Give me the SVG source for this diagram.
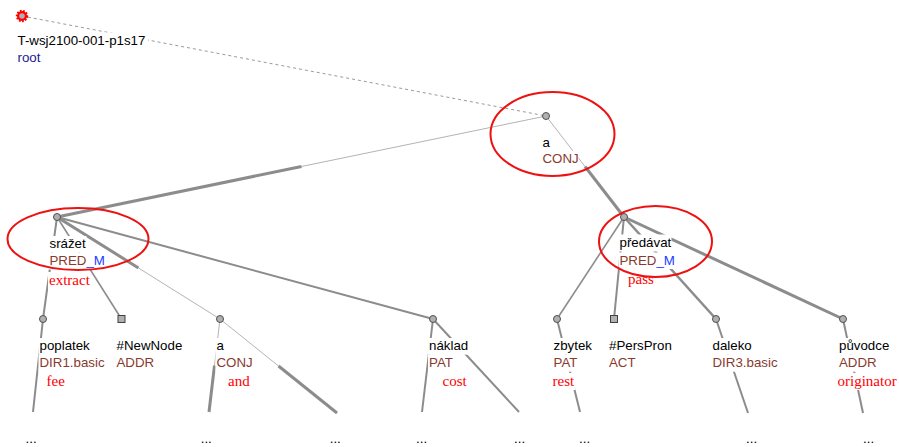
<svg xmlns="http://www.w3.org/2000/svg" width="899" height="447" viewBox="0 0 899 447">
<style>
.t{font-family:"Liberation Sans",Arial,sans-serif;font-size:13.3px;fill:#000}
.f{font-family:"Liberation Sans",Arial,sans-serif;font-size:13.3px;fill:#883a2e}
.b{fill:#1a3cff}
.r{font-family:"Liberation Serif","Times New Roman",serif;font-size:15px;fill:#ff0000}
.rt{font-family:"Liberation Sans",Arial,sans-serif;font-size:13.3px;fill:#1c1c90}
.bg{fill:#fff}
.nd{fill:#b0b0b0;stroke:#505050;stroke-width:1}
.sq{fill:#b0b0b0;stroke:#404040;stroke-width:1}
.thin{stroke:#b4b4b4;stroke-width:1;fill:none}
.thick{stroke:#8c8c8c;stroke-width:3;fill:none}
.med{stroke:#8c8c8c;stroke-width:2;fill:none}
.dash{stroke:#9a9a9a;stroke-width:1;stroke-dasharray:3 3;fill:none}
.hl{fill:none;stroke:#ee1111;stroke-width:2}
</style>
<g id="connectors">
<line class="dash" x1="22" y1="16" x2="546" y2="116"/>
<line class="thin" x1="546" y1="116" x2="301.5" y2="166.5"/>
<line class="thick" x1="301.5" y1="166.5" x2="57" y2="217"/>
<line class="thin" x1="546" y1="116" x2="585" y2="166.5"/>
<line class="thick" x1="585" y1="166.5" x2="624" y2="217"/>
<line class="med" x1="57" y1="217" x2="43" y2="319"/>
<line class="med" style="stroke-width:1.6" x1="57" y1="217" x2="121.5" y2="319"/>
<line class="thick" x1="57" y1="217" x2="138.5" y2="268"/>
<line class="thin" x1="138.5" y1="268" x2="220" y2="319"/>
<line class="med" x1="57" y1="217" x2="433" y2="319"/>
<line class="med" x1="43" y1="319" x2="33" y2="412"/>
<line class="thin" x1="220" y1="319" x2="214.5" y2="365.5"/>
<line class="thick" x1="214.5" y1="365.5" x2="209" y2="412"/>
<line class="thin" x1="220" y1="319" x2="278.5" y2="366"/>
<line class="thick" x1="278.5" y1="366" x2="337" y2="413"/>
<line class="med" x1="433" y1="319" x2="422" y2="412"/>
<line class="med" x1="433" y1="319" x2="519" y2="412"/>
<line class="med" style="stroke-width:1.6" x1="624" y1="217" x2="557" y2="319"/>
<line class="med" x1="624" y1="217" x2="614" y2="319"/>
<line class="med" style="stroke-width:2.5" x1="624" y1="217" x2="716" y2="319"/>
<line class="thick" x1="624" y1="217" x2="843" y2="319"/>
<line class="med" x1="557" y1="319" x2="580" y2="412"/>
<line class="med" x1="716" y1="319" x2="748" y2="413"/>
<line class="med" x1="843" y1="319" x2="863" y2="413"/>
</g>
<g id="n-root">
<circle cx="22" cy="16" r="5" fill="#ff0000" stroke="#ff0000" stroke-width="2.4" stroke-dasharray="1.6 1.4"/>
<circle cx="22" cy="16" r="2.8" fill="#b0b0b0"/>
<rect class="bg" x="17" y="32.5" width="131" height="17"/>
<rect class="bg" x="17" y="49.5" width="25" height="16"/>
<text class="t" x="17.5" y="45">T-wsj2100-001-p1s17</text>
<text class="rt" x="17.5" y="61.5">root</text>
</g>
<g id="n-a">
<circle class="nd" cx="546" cy="116" r="3.5"/>
<rect class="bg" x="541.5" y="134.5" width="9" height="16"/>
<rect class="bg" x="541.5" y="151" width="37" height="16"/>
<text class="t" x="542.5" y="147">a</text>
<text class="f" x="542.5" y="163">CONJ</text>
</g>
<g id="n-srazet">
<circle class="nd" cx="57" cy="217" r="3.5"/>
<rect class="bg" x="48.5" y="236" width="38" height="16.5"/>
<rect class="bg" x="48.5" y="252.5" width="57" height="17"/>
<rect class="bg" x="48" y="272" width="43" height="17"/>
<text class="t" x="49.5" y="248">srážet</text>
<text class="f" x="49.5" y="265">PRED<tspan class="b">_M</tspan></text>
<text class="r" x="49" y="285">extract</text>
</g>
<g id="n-predavat">
<circle class="nd" cx="624" cy="217" r="3.5"/>
<rect class="bg" x="618.5" y="234.5" width="53" height="17"/>
<rect class="bg" x="618.5" y="252.5" width="57" height="16.5"/>
<rect class="bg" x="627" y="270.5" width="27" height="17"/>
<text class="t" x="619.5" y="247">předávat</text>
<text class="f" x="619.5" y="265">PRED<tspan class="b">_M</tspan></text>
<text class="r" x="628" y="283.5">pass</text>
</g>
<g id="n-poplatek">
<circle class="nd" cx="43" cy="319" r="3.5"/>
<rect class="bg" x="38.5" y="338" width="52" height="16.7"/>
<rect class="bg" x="38.5" y="354.7" width="67" height="17"/>
<rect class="bg" x="45.5" y="373" width="20" height="17"/>
<text class="t" x="39.5" y="350">poplatek</text>
<text class="f" x="39.5" y="366.7">DIR1.basic</text>
<text class="r" x="46.5" y="386">fee</text>
</g>
<g id="n-newnode">
<rect class="sq" x="118" y="315.5" width="7" height="7"/>
<rect class="bg" x="115.5" y="338" width="68" height="16.7"/>
<rect class="bg" x="115.5" y="354.7" width="39" height="17"/>
<text class="t" x="116.5" y="350">#NewNode</text>
<text class="f" x="116.5" y="366.7">ADDR</text>
</g>
<g id="n-a2">
<circle class="nd" cx="220" cy="319" r="3.5"/>
<rect class="bg" x="215.5" y="338" width="9" height="16.7"/>
<rect class="bg" x="215.5" y="354.7" width="38" height="17"/>
<rect class="bg" x="227" y="373" width="24" height="17"/>
<text class="t" x="216.5" y="350">a</text>
<text class="f" x="216.5" y="366.7">CONJ</text>
<text class="r" x="228" y="386">and</text>
</g>
<g id="n-naklad">
<circle class="nd" cx="433" cy="319" r="3.5"/>
<rect class="bg" x="428" y="338" width="41" height="16.7"/>
<rect class="bg" x="428" y="354.7" width="28" height="17"/>
<rect class="bg" x="441.5" y="373" width="26" height="17"/>
<text class="t" x="429" y="350">náklad</text>
<text class="f" x="429" y="366.7">PAT</text>
<text class="r" x="442.5" y="386">cost</text>
</g>
<g id="n-zbytek">
<circle class="nd" cx="557" cy="319" r="3.5"/>
<rect class="bg" x="552.5" y="338" width="40" height="16.7"/>
<rect class="bg" x="552.5" y="354.7" width="28" height="17"/>
<rect class="bg" x="551.5" y="373" width="24" height="17"/>
<text class="t" x="553.5" y="350">zbytek</text>
<text class="f" x="553.5" y="366.7">PAT</text>
<text class="r" x="552.5" y="386">rest</text>
</g>
<g id="n-perspron">
<rect class="sq" x="610.5" y="315.5" width="7" height="7"/>
<rect class="bg" x="608" y="338" width="65" height="16.7"/>
<rect class="bg" x="608" y="354.7" width="28" height="17"/>
<text class="t" x="609" y="350">#PersPron</text>
<text class="f" x="609" y="366.7">ACT</text>
</g>
<g id="n-daleko">
<circle class="nd" cx="716" cy="319" r="3.5"/>
<rect class="bg" x="711.5" y="338" width="41" height="16.7"/>
<rect class="bg" x="711.5" y="354.7" width="67" height="17"/>
<text class="t" x="712.5" y="350">daleko</text>
<text class="f" x="712.5" y="366.7">DIR3.basic</text>
</g>
<g id="n-puvodce">
<circle class="nd" cx="843" cy="319" r="3.5"/>
<rect class="bg" x="838" y="338" width="52" height="16.7"/>
<rect class="bg" x="838" y="354.7" width="39" height="17"/>
<rect class="bg" x="836.5" y="373" width="61" height="17"/>
<text class="t" x="839" y="350">původce</text>
<text class="f" x="839" y="366.7">ADDR</text>
<text class="r" x="837.5" y="386">originator</text>
</g>
<g id="ellipsis">
<text class="t" x="25.5" y="443">...</text>
<text class="t" x="200.7" y="443">...</text>
<text class="t" x="329.7" y="443">...</text>
<text class="t" x="416" y="443">...</text>
<text class="t" x="514" y="443">...</text>
<text class="t" x="579" y="443">...</text>
<text class="t" x="746" y="443">...</text>
<text class="t" x="863" y="443">...</text>
</g>
<g id="highlights">
<ellipse class="hl" cx="552.5" cy="134" rx="62" ry="42"/>
<ellipse class="hl" cx="78" cy="239" rx="70.5" ry="31"/>
<ellipse class="hl" cx="655.5" cy="241.5" rx="56.5" ry="35.5"/>
</g>
</svg>
